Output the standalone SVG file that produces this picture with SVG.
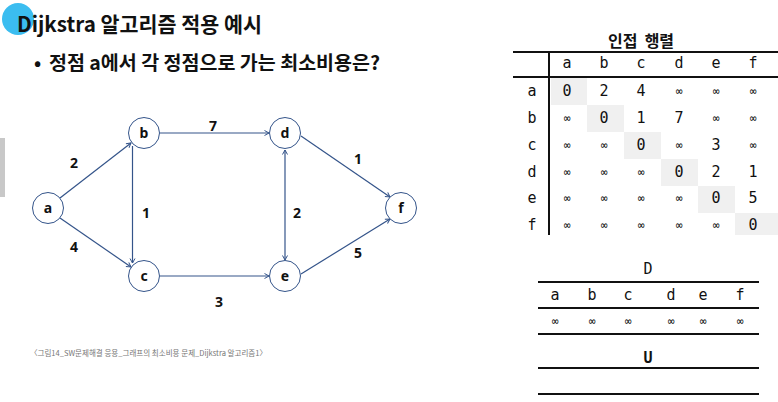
<svg xmlns="http://www.w3.org/2000/svg" width="778" height="402" viewBox="0 0 778 402">
<defs>
<marker id="arr" markerWidth="8" markerHeight="8" refX="6" refY="4" orient="auto-start-reverse" markerUnits="userSpaceOnUse">
<path d="M1.5,1.5 L6,4 L1.5,6.5" fill="none" stroke="#34548a" stroke-width="1"/>
</marker>
</defs>
<style>
.kr{font-family:"Noto Sans CJK KR","Noto Sans",sans-serif;fill:#111}
.node circle{fill:#fff;stroke:#34548a;stroke-width:1}
.node text{font-family:"Noto Sans","DejaVu Sans",sans-serif;font-size:14px;font-weight:bold;text-anchor:middle;fill:#111}
.edge{stroke:#34548a;stroke-width:1.2;fill:none;marker-end:url(#arr)}
.wl{font-family:"Noto Sans","DejaVu Sans",sans-serif;font-size:14px;font-weight:bold;text-anchor:middle;fill:#111}
.m{font-family:"DejaVu Sans Mono",monospace;font-size:15px;text-anchor:middle;fill:#111}
.inf{font-family:"DejaVu Sans Mono",monospace;font-size:11px;text-anchor:middle;fill:#111}
.ln{stroke:#111;stroke-width:2}
.dg{fill:#f0f0f0}
</style>
<rect width="778" height="402" fill="#fff"/>
<circle cx="18" cy="19" r="16" fill="#3bbdf0"/>
<text class="kr" x="17" y="32" font-size="21" font-weight="bold" textLength="245" lengthAdjust="spacingAndGlyphs">Dijkstra 알고리즘 적용 예시</text>
<text class="kr" x="34" y="70" font-size="19" font-weight="bold">•</text>
<text class="kr" x="49" y="70" font-size="19" font-weight="bold" textLength="331" lengthAdjust="spacingAndGlyphs">정점 a에서 각 정점으로 가는 최소비용은?</text>
<rect x="0" y="138" width="5" height="59" fill="#c8c8c8"/>
<g id="connectors">
<line class="edge" x1="60" y1="198" x2="131" y2="143"/>
<line class="edge" x1="60" y1="218" x2="131" y2="267"/>
<line class="edge" x1="160" y1="133" x2="269" y2="133"/>
<line class="edge" x1="132.5" y1="146" x2="132.5" y2="263"/>
<line class="edge" x1="160" y1="276" x2="269" y2="276"/>
<line class="edge" x1="285" y1="150" x2="285" y2="260" style="marker-start:url(#arr)"/>
<line class="edge" x1="301" y1="136" x2="390" y2="197"/>
<line class="edge" x1="301" y1="274" x2="390" y2="219"/>
<text class="wl" x="74" y="168">2</text>
<text class="wl" x="74" y="252">4</text>
<text class="wl" x="213" y="131">7</text>
<text class="wl" x="146" y="218">1</text>
<text class="wl" x="297" y="218">2</text>
<text class="wl" x="358" y="164">1</text>
<text class="wl" x="358" y="258">5</text>
<text class="wl" x="219" y="307">3</text>
</g>
<g id="node-a" class="node"><circle cx="48" cy="208" r="15.5"/><text x="48" y="213">a</text></g>
<g id="node-b" class="node"><circle cx="144" cy="133" r="15.5"/><text x="144" y="138">b</text></g>
<g id="node-c" class="node"><circle cx="144" cy="276" r="15.5"/><text x="144" y="281">c</text></g>
<g id="node-d" class="node"><circle cx="285" cy="133" r="15.5"/><text x="285" y="138">d</text></g>
<g id="node-e" class="node"><circle cx="285" cy="276" r="15.5"/><text x="285" y="281">e</text></g>
<g id="node-f" class="node"><circle cx="401" cy="208" r="15.5"/><text x="401" y="213">f</text></g>
<text class="kr" x="30" y="356" font-size="7.5" style="fill:#777" textLength="237" lengthAdjust="spacingAndGlyphs">〈그림14_SW문제해결 응용_그래프의 최소비용 문제_Dijkstra 알고리즘1〉</text>
<g id="adj-matrix">
<text class="kr" x="641" y="47" font-size="16" font-weight="bold" text-anchor="middle" xml:space="preserve">인접  행렬</text>
<rect class="dg" x="551" y="78" width="36" height="27"/>
<rect class="dg" x="587" y="105" width="37" height="27"/>
<rect class="dg" x="624" y="132" width="37" height="27"/>
<rect class="dg" x="661" y="159" width="37" height="27"/>
<rect class="dg" x="698" y="186" width="37" height="27"/>
<rect class="dg" x="735" y="213" width="43" height="22"/>
<line class="ln" x1="513" y1="52" x2="778" y2="52"/>
<line class="ln" x1="513" y1="77" x2="778" y2="77"/>
<line class="ln" x1="549" y1="52" x2="549" y2="235"/>
<g class="m">
<text x="567" y="68">a</text><text x="604" y="68">b</text><text x="641" y="68">c</text><text x="679" y="68">d</text><text x="716" y="68">e</text><text x="753" y="68">f</text>
<text x="532" y="96">a</text><text x="532" y="123">b</text><text x="532" y="150">c</text><text x="532" y="177">d</text><text x="532" y="203">e</text><text x="532" y="230">f</text>
<text x="567" y="96">0</text><text x="604" y="96">2</text><text x="641" y="96">4</text>
<text x="604" y="123">0</text><text x="641" y="123">1</text><text x="679" y="123">7</text>
<text x="641" y="150">0</text><text x="716" y="150">3</text>
<text x="679" y="177">0</text><text x="716" y="177">2</text><text x="753" y="177">1</text>
<text x="716" y="203">0</text><text x="753" y="203">5</text>
<text x="753" y="230">0</text>
</g>
<g class="inf">
<text x="679" y="95">∞</text><text x="716" y="95">∞</text><text x="753" y="95">∞</text>
<text x="567" y="122">∞</text><text x="716" y="122">∞</text><text x="753" y="122">∞</text>
<text x="567" y="149">∞</text><text x="604" y="149">∞</text><text x="679" y="149">∞</text><text x="753" y="149">∞</text>
<text x="567" y="176">∞</text><text x="604" y="176">∞</text><text x="641" y="176">∞</text>
<text x="567" y="202">∞</text><text x="604" y="202">∞</text><text x="641" y="202">∞</text><text x="679" y="202">∞</text>
<text x="567" y="229">∞</text><text x="604" y="229">∞</text><text x="641" y="229">∞</text><text x="679" y="229">∞</text><text x="716" y="229">∞</text>
</g>
</g>
<g id="d-table">
<text class="m" x="648" y="274" font-size="14">D</text>
<line class="ln" x1="538" y1="282" x2="759" y2="282"/>
<g class="m" font-size="14">
<text x="555" y="300">a</text><text x="592" y="300">b</text><text x="628" y="300">c</text><text x="671" y="300">d</text><text x="703" y="300">e</text><text x="740" y="300">f</text>
</g>
<line class="ln" x1="538" y1="308" x2="759" y2="308"/>
<g class="inf">
<text x="555" y="325">∞</text><text x="592" y="325">∞</text><text x="628" y="325">∞</text><text x="671" y="325">∞</text><text x="703" y="325">∞</text><text x="740" y="325">∞</text>
</g>
<line class="ln" x1="538" y1="334" x2="759" y2="334"/>
<text class="m" x="648" y="363" font-size="14" font-weight="bold">U</text>
<line class="ln" x1="538" y1="368" x2="759" y2="368"/>
<line class="ln" x1="538" y1="394" x2="759" y2="394"/>
</g>
</svg>
